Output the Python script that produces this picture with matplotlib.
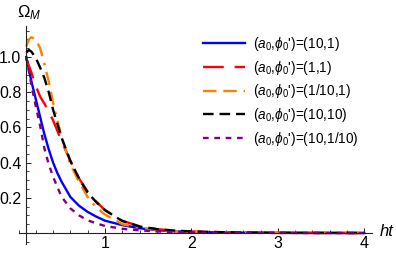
import numpy as np
import matplotlib
matplotlib.use("Agg")
import matplotlib.pyplot as plt
from matplotlib.ticker import MultipleLocator, FixedLocator

plt.rcParams['font.family'] = ['Liberation Sans', 'DejaVu Sans']
plt.rcParams['mathtext.fontset'] = 'custom'
plt.rcParams['mathtext.rm'] = 'Liberation Sans'
plt.rcParams['mathtext.it'] = 'Liberation Sans:italic'
plt.rcParams['mathtext.bf'] = 'Liberation Sans:bold'

# values
t = [0.09, 0.12, 0.15, 0.2, 0.25, 0.3, 0.35, 0.4, 0.45, 0.5, 0.6, 0.7, 0.8, 0.9,
     1.0, 1.2, 1.4, 1.6, 1.8, 2.0, 2.5, 3.0, 3.5, 4.0]
om_10_1 = [1.0, 0.93, 0.86, 0.76, 0.66, 0.56, 0.475, 0.40, 0.34, 0.29, 0.205, 0.155,
           0.12, 0.093, 0.07, 0.045, 0.027, 0.016, 0.01, 0.006, 0.002, 0.0008, 0.0003, 0.0001]
om_1_1 = [0.99, 0.95, 0.91, 0.835, 0.775, 0.735, 0.69, 0.64, 0.58, 0.52, 0.41, 0.31,
          0.235, 0.178, 0.13, 0.07, 0.038, 0.022, 0.013, 0.008, 0.003, 0.001, 0.0004, 0.0001]
om_01_1 = [1.06, 1.10, 1.112, 1.10, 1.05, 0.96, 0.86, 0.74, 0.64, 0.54, 0.39, 0.29,
           0.205, 0.145, 0.105, 0.05, 0.03, 0.018, 0.01, 0.006, 0.002, 0.0008, 0.0003, 0.0001]
om_10_10 = [1.025, 1.04, 1.03, 0.995, 0.94, 0.88, 0.80, 0.70, 0.62, 0.54, 0.41, 0.31,
            0.23, 0.175, 0.13, 0.068, 0.037, 0.022, 0.014, 0.009, 0.003, 0.001, 0.0004, 0.0001]
om_10_01 = [1.0, 0.92, 0.84, 0.72, 0.61, 0.48, 0.39, 0.32, 0.26, 0.205, 0.14, 0.10,
            0.072, 0.055, 0.04, 0.024, 0.015, 0.009, 0.005, 0.003, 0.001, 0.0004, 0.0001, 0.0]
labels = ["(10,1)", "(1,1)", "(1/10,1)", "(10,10)", "(10,1/10)"]

prefix = r"$(a_0{,}\phi_0$')="

fig = plt.figure(figsize=(3.96, 2.57), dpi=100)
ax = fig.add_axes([18.5/396, 13/257, (372-18.5)/396, (244-26)/257])

lw = 1.7
ax.plot(t, om_10_1, color='#0000ff', lw=lw, label=prefix + labels[0])
ax.plot(t, om_1_1, color='#ff0000', lw=lw, dashes=(8.8, 4.6), label=prefix + labels[1])
ax.plot(t, om_01_1, color='#ff8000', lw=lw, dashes=(5.7, 2.9, 5.7, 2.9, 1.1, 2.9),
        label=prefix + labels[2])
ax.plot(t, om_10_10, color='black', lw=lw, dashes=(4.5, 2.5), label=prefix + labels[3])
ax.plot(t, om_10_01, color='#800080', lw=lw, dashes=(2.4, 2.4), label=prefix + labels[4])

ax.set_xlim(0, 4.09)
ax.set_ylim(-0.0625, 1.176)

for s in ['top', 'right']:
    ax.spines[s].set_visible(False)
ax.spines['left'].set_position(('data', 0.09))
ax.spines['bottom'].set_position(('data', 0))
for s in ['left', 'bottom']:
    ax.spines[s].set_color('#222222')
    ax.spines[s].set_linewidth(0.8)

ax.xaxis.set_major_locator(FixedLocator([1, 2, 3, 4]))
ax.xaxis.set_minor_locator(MultipleLocator(0.2))
ax.yaxis.set_major_locator(FixedLocator([0.2, 0.4, 0.6, 0.8, 1.0]))
ax.yaxis.set_minor_locator(MultipleLocator(0.05))
ax.set_yticklabels(["0.2", "0.4", "0.6", "0.8", "1.0"])
ax.tick_params(which='both', direction='in', colors='#222222', labelcolor='black',
               labelsize=11.5)
ax.tick_params(which='major', length=3.5, width=0.7)
ax.tick_params(which='minor', length=2, width=0.6)
ax.tick_params(axis='y', pad=3.5)
ax.tick_params(axis='x', pad=2.5)

fig.text(29/396, 1 - 13/257, r"$\Omega_M$", fontsize=12, ha='center', va='center')
fig.text(387/396, 1 - 232/257, "ht", fontsize=12, style='italic', ha='center', va='center')

ax.legend(loc='upper left', bbox_to_anchor=(203/396, 1 - 35/257), bbox_transform=fig.transFigure,
          frameon=False, fontsize=9.8, handlelength=3.1, handletextpad=0.6,
          labelspacing=0.42, borderpad=0, borderaxespad=0)

plt.savefig("out.png", dpi=100)
